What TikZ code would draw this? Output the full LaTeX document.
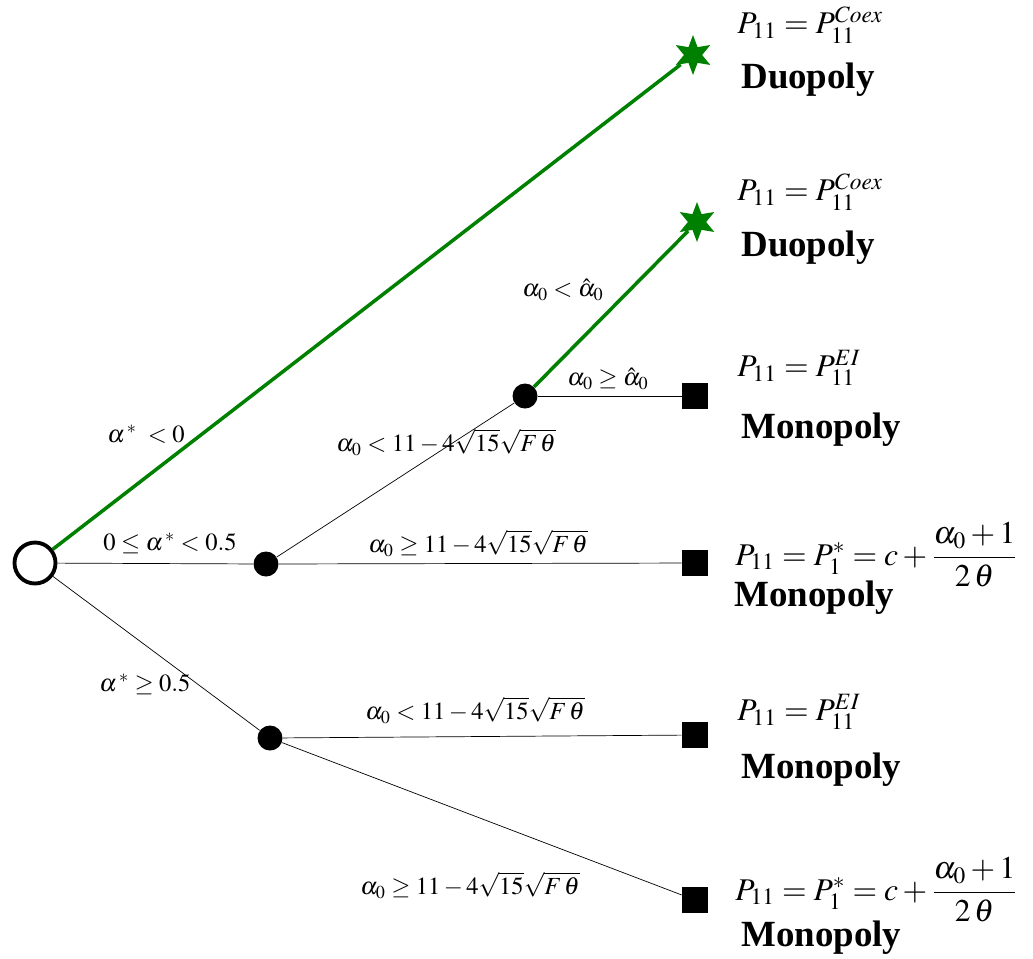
\documentclass[tikz,border=0pt]{standalone}
\usepackage{amsmath,amssymb}
\usepackage{mathptmx}
\usepackage{fontspec}
\setmainfont{Liberation Serif}
\usepackage{tikz}
\usetikzlibrary{shapes.geometric, arrows.meta, positioning}

\begin{document}
\begin{tikzpicture}[
    x=0.02cm, y=-0.02cm,
    root/.style={circle, draw=black, line width=2.2pt, fill=white, minimum size=0.82cm, inner sep=0pt},
    chance/.style={circle, fill=black, minimum size=0.5cm, inner sep=0pt},
    mono/.style={rectangle, fill=black, minimum size=0.52cm, inner sep=0pt},
    duo/.style={star, star points=6, star point ratio=2.2, fill=green!50!black, minimum size=0.8cm, inner sep=0pt},
    branch/.style={thin, black},
    green branch/.style={line width=2pt, green!50!black},
    cond/.style={font=\fontsize{14}{16}\selectfont, inner sep=0pt},
    payoff/.style={font=\fontsize{18}{20}\selectfont, anchor=west, inner sep=0pt},
    market/.style={font=\fontsize{21}{24}\selectfont\bfseries, anchor=west, inner sep=0pt},
]
    \useasboundingbox (0,0) rectangle (1033,958);

    % decision nodes
    \node (start) [root] at (35,563) {};
    \node (mid) [chance] at (266,564) {};
    \node (low) [chance] at (270,738) {};
    \node (upper) [chance] at (525,396) {};

    % end states
    \node (duoA) [duo] at (693,55) {};
    \node (duoB) [duo] at (697,222) {};
    \node (monoA) [mono] at (695,396) {};
    \node (monoB) [mono] at (695,563) {};
    \node (monoC) [mono] at (695,735) {};
    \node (monoD) [mono] at (695,900) {};

    % branches
    \draw [green branch] (start) -- (duoA);
    \draw [branch] (start) -- (mid);
    \draw [branch] (start) -- (low);
    \draw [branch] (mid) -- (upper);
    \draw [branch] (mid) -- (monoB);
    \draw [green branch] (upper) -- (duoB);
    \draw [branch] (upper) -- (monoA);
    \draw [branch] (low) -- (monoC);
    \draw [branch] (low) -- (monoD);

    % conditions
    \node (c1) [cond] at (146,434) {$\alpha^{\,*} \; < 0$};
    \node (c2) [cond] at (170,543) {$0 \leq \alpha^{\,*} < 0.5$};
    \node (c3) [cond] at (145,684) {$\alpha^{\,*} \geq 0.5$};
    \node (c4) [cond] at (563,290) {$\alpha_0 < \hat{\alpha}_0$};
    \node (c5) [cond] at (608,379) {$\alpha_0 \geq \hat{\alpha}_0$};
    \node (c6) [cond] at (446,442) {$\alpha_0 < 11 - 4\sqrt{15}\sqrt{F\,\theta}$};
    \node (c7) [cond] at (478,543) {$\alpha_0 \geq 11 - 4\sqrt{15}\sqrt{F\,\theta}$};
    \node (c8) [cond] at (475,710) {$\alpha_0 < 11 - 4\sqrt{15}\sqrt{F\,\theta}$};
    \node (c9) [cond] at (470,885) {$\alpha_0 \geq 11 - 4\sqrt{15}\sqrt{F\,\theta}$};

    % outcomes
    \node (pA) [payoff] at (737,25) {$P_{11} = P_{11}^{Coex}$};
    \node (mA) [market] at (741,80) {Duopoly};
    \node (pB) [payoff] at (737,192) {$P_{11} = P_{11}^{Coex}$};
    \node (mB) [market] at (741,248) {Duopoly};
    \node (pC) [payoff] at (737,368) {$P_{11} = P_{11}^{EI}$};
    \node (mC) [market] at (741,430) {Monopoly};
    \node (pD) [payoff] at (735,555) {$P_{11} = P_1^{*} = c + \dfrac{\alpha_0 + 1}{2\,\theta}$};
    \node (mD) [market] at (734,598) {Monopoly};
    \node (pE) [payoff] at (737,712) {$P_{11} = P_{11}^{EI}$};
    \node (mE) [market] at (741,770) {Monopoly};
    \node (pF) [payoff] at (735,890) {$P_{11} = P_1^{*} = c + \dfrac{\alpha_0 + 1}{2\,\theta}$};
    \node (mF) [market] at (741,938) {Monopoly};

\end{tikzpicture}
\end{document}
